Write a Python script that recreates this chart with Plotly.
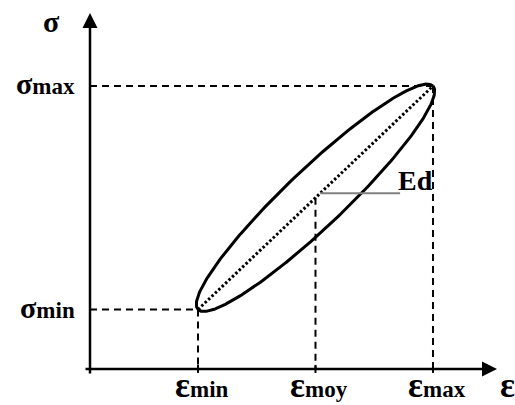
import numpy as np
import plotly.graph_objects as go

# ---------------- data ----------------
eps_names = ["min", "moy", "max"]
eps_values = [1.0, 2.0, 3.0]
sigma_names = ["min", "max"]
sigma_values = [1.0, 3.0]
loop_halfwidth = 0.36          # vertical half-opening of the loop at mean strain (σ units)
ed_span = [2.04, 2.72]         # ε extent of the Ed marker line

# ---------------- frame ----------------
W, H = 515, 405
X_RANGE = [-0.685, 3.698]
Y_RANGE = [0.145, 3.770]
sx = W / (X_RANGE[1] - X_RANGE[0])   # px per ε unit
sy = H / (Y_RANGE[1] - Y_RANGE[0])   # px per σ unit
AX_X0 = 0.081      # ε position of σ axis
AX_Y0 = 0.468      # σ position of ε axis

FONT = "Liberation Serif"
EPS_SIZE = 35
SIG_SIZE = 30
SMALL = 23

eps_min, eps_moy, eps_max = eps_values
sig_min, sig_max = sigma_values

fig = go.Figure()

# ellipse (hysteresis loop) built from the two extreme points
cx, cy = (eps_min + eps_max) / 2, (sig_min + sig_max) / 2
dxp, dyp = (eps_max - cx) * sx, (sig_max - cy) * sy
a = np.hypot(dxp, dyp)
th = np.arctan2(dyp, dxp)
b = loop_halfwidth * sy * np.cos(th)
t = np.linspace(0, 2 * np.pi, 400)
px = a * np.cos(t) * np.cos(th) - b * np.sin(t) * np.sin(th)
py = a * np.cos(t) * np.sin(th) + b * np.sin(t) * np.cos(th)
fig.add_trace(go.Scatter(x=cx + px / sx, y=cy + py / sy, mode="lines",
                         line=dict(color="black", width=3), hoverinfo="skip"))

# dotted diagonal
fig.add_trace(go.Scatter(x=[eps_min, eps_max], y=[sig_min, sig_max], mode="lines",
                         line=dict(color="black", width=3, dash="2.5px,2.2px"),
                         hoverinfo="skip"))

def diag(e):
    return sig_min + (e - eps_min) * (sig_max - sig_min) / (eps_max - eps_min)

# Ed marker
fig.add_trace(go.Scatter(x=ed_span, y=[diag(ed_span[0])] * 2, mode="lines",
                         line=dict(color="#808080", width=2), hoverinfo="skip"))

dash = "7px,5px"
tick = 4 / sy
shapes = []
def seg(x0, y0, x1, y1, d=dash, w=2):
    shapes.append(dict(type="line", x0=x0, y0=y0, x1=x1, y1=y1, xref="x", yref="y",
                       line=dict(color="black", width=w, dash=d)))

seg(AX_X0, sig_max, eps_max, sig_max)
seg(AX_X0, sig_min, eps_min, sig_min)
seg(eps_min, sig_min, eps_min, AX_Y0)
seg(eps_max, sig_max, eps_max, AX_Y0)
seg(eps_moy, diag(eps_moy), eps_moy, AX_Y0)
for e in eps_values:
    seg(e, AX_Y0 - tick, e, AX_Y0 + tick, d="solid", w=2)

ann = []
# axes with arrowheads
ann.append(dict(x=3.545, y=AX_Y0, ax=0.030, ay=AX_Y0, xref="x", yref="y", axref="x", ayref="y",
                text="", showarrow=True, arrowhead=2, arrowsize=1.2, arrowwidth=2.5,
                arrowcolor="black", standoff=0))
ann.append(dict(x=AX_X0, y=3.654, ax=AX_X0, ay=0.414, xref="x", yref="y", axref="x", ayref="y",
                text="", showarrow=True, arrowhead=2, arrowsize=1.2, arrowwidth=2.5,
                arrowcolor="black", standoff=0))

def lab(sym, sub):
    s = f"<b>{sym}"
    if sub:
        s += f"<span style='font-size:{SMALL}px'>{sub}</span>"
    return s + "</b>"

LAB_Y = 0.147   # bottom edge of the ε labels
for e, n in zip(eps_values, eps_names):
    ann.append(dict(x=e + 0.03, y=LAB_Y, xref="x", yref="y", text=lab("ε", n), showarrow=False,
                    xanchor="center", yanchor="bottom", borderpad=0, borderwidth=0,
                    font=dict(family=FONT, size=EPS_SIZE, color="black")))
ann.append(dict(x=3.57, y=LAB_Y, xref="x", yref="y", text=lab("ε", ""), showarrow=False,
                xanchor="left", yanchor="bottom", borderpad=0, borderwidth=0,
                font=dict(family=FONT, size=EPS_SIZE, color="black")))
for s, n in zip(sigma_values, sigma_names):
    ann.append(dict(x=-0.03, y=s + 0.02, xref="x", yref="y", text=lab("σ", n), showarrow=False,
                    xanchor="right", yanchor="middle",
                    font=dict(family=FONT, size=SIG_SIZE, color="black")))
ann.append(dict(x=-0.243, y=3.58, xref="x", yref="y", text=lab("σ", ""), showarrow=False,
                xanchor="center", yanchor="middle", borderpad=0, borderwidth=0,
                font=dict(family=FONT, size=SIG_SIZE, color="black")))
ann.append(dict(x=2.847, y=2.15, xref="x", yref="y", text="<b>Ed</b>", showarrow=False,
                xanchor="center", yanchor="middle", font=dict(family=FONT, size=28, color="black")))

fig.update_layout(
    width=W, height=H, margin=dict(l=0, r=0, t=0, b=0),
    paper_bgcolor="white", plot_bgcolor="white", showlegend=False,
    xaxis=dict(range=X_RANGE, visible=False, fixedrange=True),
    yaxis=dict(range=Y_RANGE, visible=False, fixedrange=True),
    shapes=shapes, annotations=ann,
)
fig.write_html("out.html", config={"displayModeBar": False, "staticPlot": True},
               post_script="document.body.style.margin='0px';document.body.style.overflow='hidden';")
